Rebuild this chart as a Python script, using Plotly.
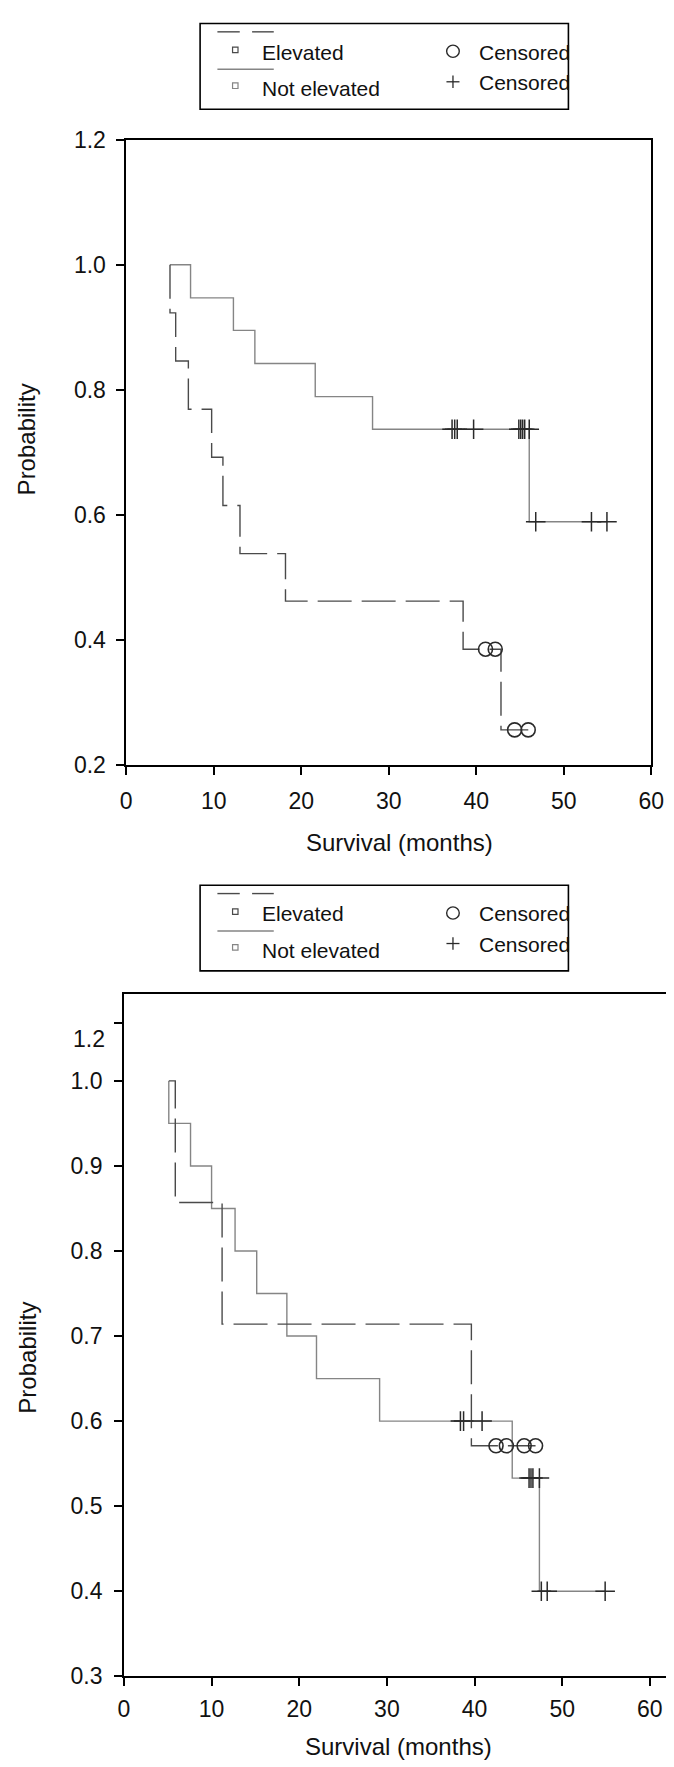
import plotly.graph_objects as go

# ---------------- data ----------------
# Top panel
top_elev_t = [5.0, 5.0, 5.65, 7.1, 9.76, 11.05, 13.0, 18.2, 38.5, 42.83, 45.95]
top_elev_s = [1.0, 0.923, 0.846, 0.769, 0.692, 0.615, 0.538, 0.462, 0.385, 0.256, 0.256]
top_elev_cens = [41.06, 42.17, 44.39, 45.94]

top_not_t = [5.0, 7.35, 12.25, 14.7, 21.6, 28.15, 46.06, 54.94]
top_not_s = [1.0, 0.947, 0.895, 0.842, 0.789, 0.737, 0.589, 0.589]
top_not_cens = [37.24, 37.54, 37.83, 39.7, 44.87, 45.09, 45.31, 45.54, 46.06,
                46.8, 53.17, 54.94]

# Bottom panel
bot_elev_t = [5.12, 5.86, 11.2, 39.64, 46.96]
bot_elev_s = [1.0, 0.857, 0.714, 0.571, 0.571]
bot_elev_cens = [42.45, 43.63, 45.66, 46.96]

bot_not_t = [5.12, 5.12, 7.6, 10.0, 12.68, 15.15, 18.59, 21.97, 29.17, 44.3, 47.4, 54.9]
bot_not_s = [1.0, 0.95, 0.90, 0.85, 0.80, 0.75, 0.70, 0.65, 0.60, 0.533, 0.40, 0.40]
bot_not_cens = [38.39, 38.75, 40.86, 46.22, 46.44, 46.66, 47.4, 47.62, 48.29, 54.9]

x_ticks = [0, 10, 20, 30, 40, 50, 60]
top_y_ticks = [0.2, 0.4, 0.6, 0.8, 1.0, 1.2]
bot_y_ticks = [0.3, 0.4, 0.5, 0.6, 0.7, 0.8, 0.9, 1.0]

legend_labels = ["Elevated", "Not elevated"]
censor_label = "Censored"
x_title = "Survival (months)"
y_title = "Probability"

# ---------------- styling ----------------
W, H = 674, 1767
FONT = "Liberation Sans, Arial, Helvetica, sans-serif"
C_ELEV = "#4a4a4a"
C_NOT = "#858585"
C_MARK = "#2a2a2a"
DASH = "34px,10px"


def px_x(p):
    return p / W


def px_y(p):
    return 1 - p / H


def surv_before(times, values, t):
    v = values[0]
    for ti, vi in zip(times, values):
        if ti < t:
            v = vi
    return v


fig = go.Figure()


def add_panel(xa, ya, el_t, el_s, el_c, nt_t, nt_s, nt_c):
    fig.add_trace(go.Scatter(x=nt_t, y=nt_s, mode="lines", line_shape="hv",
                             line=dict(color=C_NOT, width=1.4),
                             xaxis=xa, yaxis=ya, showlegend=False, hoverinfo="skip"))
    fig.add_trace(go.Scatter(x=el_t, y=el_s, mode="lines", line_shape="hv",
                             line=dict(color=C_ELEV, width=1.4, dash=DASH),
                             xaxis=xa, yaxis=ya, showlegend=False, hoverinfo="skip"))
    fig.add_trace(go.Scatter(x=nt_c, y=[surv_before(nt_t, nt_s, t) for t in nt_c],
                             mode="markers",
                             marker=dict(symbol="cross-thin", size=14,
                                         line=dict(color=C_MARK, width=1.5)),
                             xaxis=xa, yaxis=ya, showlegend=False, hoverinfo="skip"))
    fig.add_trace(go.Scatter(x=el_c, y=[surv_before(el_t, el_s, t) for t in el_c],
                             mode="markers",
                             marker=dict(symbol="circle-open", size=14, color=C_MARK,
                                         line=dict(color=C_MARK, width=1.6)),
                             xaxis=xa, yaxis=ya, showlegend=False, hoverinfo="skip"))


add_panel("x", "y", top_elev_t, top_elev_s, top_elev_cens,
          top_not_t, top_not_s, top_not_cens)
add_panel("x2", "y2", bot_elev_t, bot_elev_s, bot_elev_cens,
          bot_not_t, bot_not_s, bot_not_cens)

axis_common = dict(showline=True, linecolor="black", linewidth=1.5, mirror=True,
                   ticks="outside", ticklen=8, tickwidth=1.5, tickcolor="black",
                   showgrid=False, zeroline=False,
                   tickfont=dict(family=FONT, size=23, color="#111"))

# top panel geometry (pixels)
T_L, T_R, T_T, T_B = 115.5, 655.7, 120.5, 755.0
# bottom panel geometry
B_L, B_R, B_T, B_B = 113.1, 670.7, 987.7, 1680.0
B_XMAX = (B_R - B_L) / ((654.3 - B_L) / 60.0)
B_YMAX = 0.3 + (B_B - B_T) / ((B_B - 1075.7) / 0.7)
B_TICK12 = 0.3 + (B_B - 1017.3) / ((B_B - 1075.7) / 0.7)
B_LAB12 = 0.3 + (B_B - 1033.3) / ((B_B - 1075.7) / 0.7)

fig.update_layout(
    width=W, height=H, margin=dict(l=0, r=0, t=0, b=0),
    paper_bgcolor="white", plot_bgcolor="white",
    font=dict(family=FONT, color="#111"),
    xaxis=dict(axis_common, domain=[px_x(T_L), px_x(T_R)], range=[0, 60],
               tickvals=x_ticks, ticktext=[str(v) for v in x_ticks],
               ticklabelstandoff=7, anchor="y"),
    yaxis=dict(axis_common, domain=[px_y(T_B), px_y(T_T)], range=[0.2, 1.2],
               tickvals=top_y_ticks, ticktext=[f"{v:.1f}" for v in top_y_ticks],
               ticklabelstandoff=6, anchor="x"),
    xaxis2=dict(axis_common, domain=[px_x(B_L), px_x(B_R)], range=[0, B_XMAX],
                tickvals=x_ticks, ticktext=[str(v) for v in x_ticks],
                ticklabelstandoff=3, anchor="y2"),
    yaxis2=dict(axis_common, domain=[px_y(B_B), px_y(B_T)], range=[0.3, B_YMAX],
                tickvals=bot_y_ticks + [B_TICK12],
                ticktext=[f"{v:.1f}" for v in bot_y_ticks] + [""],
                ticklabelstandoff=7, anchor="x2"),
)

ann = []
# shifted "1.2" label on the bottom panel's broken axis
ann.append(dict(text="1.2", xref="paper", yref="y2", x=px_x(96), y=B_LAB12,
                xanchor="right", yanchor="middle", showarrow=False,
                font=dict(family=FONT, size=23, color="#111")))
# axis titles
for cx, cy in [(397, 833.3), (395.5, 1751.7)]:
    ann.append(dict(text=x_title, xref="paper", yref="paper", x=px_x(cx), y=px_y(cy),
                    xanchor="center", yanchor="middle", showarrow=False,
                    font=dict(family=FONT, size=24, color="#111")))
for cx, cy in [(13, 425), (13, 1357)]:
    ann.append(dict(text=y_title, xref="paper", yref="paper", x=px_x(cx), y=px_y(cy),
                    xanchor="center", yanchor="middle", showarrow=False, textangle=-90,
                    font=dict(family=FONT, size=24, color="#111")))

shapes = []


def legend(dy):
    shapes.append(dict(type="rect", xref="paper", yref="paper",
                       x0=px_x(191.5), x1=px_x(570.5), y0=px_y(2.5 + dy), y1=px_y(89.5 + dy),
                       line=dict(color="black", width=1.6), fillcolor="white", layer="below"))
    # dashed sample
    for a, b in [(209.3, 232.3), (245.0, 267.3)]:
        shapes.append(dict(type="line", xref="paper", yref="paper",
                           x0=px_x(a), x1=px_x(b), y0=px_y(11 + dy), y1=px_y(11 + dy),
                           line=dict(color=C_ELEV, width=1.4)))
    # solid sample
    shapes.append(dict(type="line", xref="paper", yref="paper",
                       x0=px_x(209.3), x1=px_x(267.3), y0=px_y(49 + dy), y1=px_y(49 + dy),
                       line=dict(color=C_NOT, width=1.4)))
    # small squares
    for cy, col in [(29.3, C_ELEV), (65.7, C_NOT)]:
        shapes.append(dict(type="rect", xref="paper", yref="paper",
                           x0=px_x(224.9), x1=px_x(230.5),
                           y0=px_y(cy + dy - 2.8), y1=px_y(cy + dy + 2.8),
                           line=dict(color=col, width=1.2)))
    # circle symbol
    shapes.append(dict(type="circle", xref="paper", yref="paper",
                       x0=px_x(445.2), x1=px_x(458.2),
                       y0=px_y(30.7 + dy - 6.2), y1=px_y(30.7 + dy + 6.2),
                       line=dict(color=C_MARK, width=1.4)))
    # cross symbol
    shapes.append(dict(type="line", xref="paper", yref="paper",
                       x0=px_x(445.0), x1=px_x(458.4), y0=px_y(61.7 + dy), y1=px_y(61.7 + dy),
                       line=dict(color=C_MARK, width=1.3)))
    shapes.append(dict(type="line", xref="paper", yref="paper",
                       x0=px_x(451.7), x1=px_x(451.7), y0=px_y(55.3 + dy), y1=px_y(68.1 + dy),
                       line=dict(color=C_MARK, width=1.3)))
    for txt, lx, ly in [(legend_labels[0], 252.7, 31.7), (legend_labels[1], 252.7, 69.0),
                        (censor_label, 476.7, 31.7), (censor_label, 476.7, 62.7)]:
        ann.append(dict(text=txt, xref="paper", yref="paper", x=px_x(lx), y=px_y(ly + dy),
                        xanchor="left", yanchor="middle", showarrow=False,
                        font=dict(family=FONT, size=21, color="#111")))


legend(0)
legend(874.6)

fig.update_layout(annotations=ann, shapes=shapes)
fig.write_html("out.html")
